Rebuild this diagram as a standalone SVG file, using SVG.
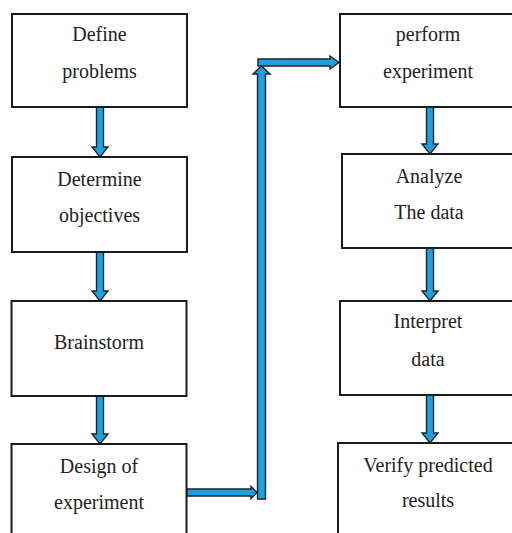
<svg xmlns="http://www.w3.org/2000/svg" width="512" height="533" viewBox="0 0 512 533">
<style>
.box{fill:#fff;stroke:#1a1a1a;stroke-width:2}
.t{font-family:"Liberation Serif","Times New Roman",serif;font-size:20px;fill:#222;text-anchor:middle}
.arr{fill:#1ba1e2;stroke:#222;stroke-width:1.4;stroke-linejoin:miter}
</style>
<rect width="512" height="533" fill="#fff"/>
<g id="connectors">
<polygon class="arr" points="96.5,107 103.5,107 103.5,147 108,147 100,157 92,147 96.5,147"/>
<polygon class="arr" points="96.5,252 103.5,252 103.5,291 108,291 100,301 92,291 96.5,291"/>
<polygon class="arr" points="96.5,396 103.5,396 103.5,434 108,434 100,444 92,434 96.5,434"/>
<polygon class="arr" points="426.5,107 433.5,107 433.5,144 438,144 430,154 422,144 426.5,144"/>
<polygon class="arr" points="426.5,248 433.5,248 433.5,291 438,291 430,301 422,291 426.5,291"/>
<polygon class="arr" points="426.5,395 433.5,395 433.5,433 438,433 430,443 422,433 426.5,433"/>
<polygon class="arr" points="187,489 251,489 251,486.5 257,492.5 251,498.5 251,496 187,496"/>
<polygon class="arr" points="257.5,499 257.5,74 253,74 261.5,66 270,74 265.5,74 265.5,499"/>
<polygon class="arr" points="258,59 330,59 330,56 339,62.5 330,69 330,66 258,66"/>
</g>
<g id="n1"><rect class="box" x="12" y="14" width="175" height="93"/><text class="t" x="99.5" y="41">Define</text><text class="t" x="99.5" y="78">problems</text></g>
<g id="n2"><rect class="box" x="12" y="157" width="175" height="95"/><text class="t" x="99.5" y="186">Determine</text><text class="t" x="99.5" y="222">objectives</text></g>
<g id="n3"><rect class="box" x="11.5" y="301" width="175" height="95"/><text class="t" x="99" y="349">Brainstorm</text></g>
<g id="n4"><rect class="box" x="11.5" y="444" width="175" height="100"/><text class="t" x="99" y="473">Design of</text><text class="t" x="99" y="509">experiment</text></g>
<g id="n5"><rect class="box" x="340" y="14" width="180" height="93"/><text class="t" x="428" y="41">perform</text><text class="t" x="428" y="78">experiment</text></g>
<g id="n6"><rect class="box" x="342" y="154" width="180" height="94"/><text class="t" x="429" y="183">Analyze</text><text class="t" x="429" y="219">The data</text></g>
<g id="n7"><rect class="box" x="340" y="301" width="180" height="94"/><text class="t" x="428" y="328">Interpret</text><text class="t" x="428" y="366">data</text></g>
<g id="n8"><rect class="box" x="338" y="443" width="180" height="100"/><text class="t" x="428" y="472">Verify predicted</text><text class="t" x="428" y="507">results</text></g>
</svg>
